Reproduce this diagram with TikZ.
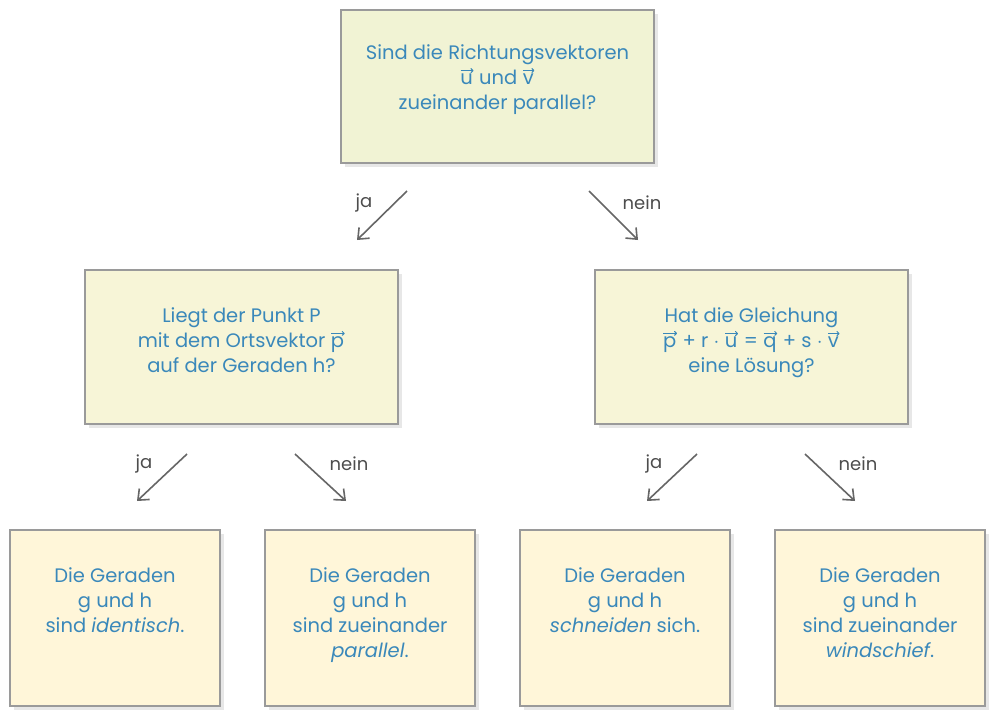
\documentclass[tikz,border=0pt]{standalone}
\usepackage{amsmath}
\usepackage{fontspec}
\setmainfont{Poppins}
\usetikzlibrary{arrows.meta}
\definecolor{txtblue}{HTML}{3A88BA}
\definecolor{fillA}{HTML}{F1F3D4}
\definecolor{fillB}{HTML}{F7F5D7}
\definecolor{fillC}{HTML}{FFF6D9}
\definecolor{edgegray}{HTML}{9A9A9A}
\definecolor{arrgray}{HTML}{666666}
\definecolor{lblgray}{HTML}{4D4D4D}
\newcommand\vv[1]{\tikz[baseline=(vvx.base)]{\node[inner sep=0pt,text=txtblue](vvx){#1};\draw[draw=txtblue,line width=1pt,-{To[length=3pt,width=5pt]}] ([yshift=3pt,xshift=0.5pt]vvx.north west) -- ([yshift=3pt,xshift=0.5pt]vvx.north east);}}
\begin{document}
\begin{tikzpicture}[x=1pt,y=-1pt,
  boxbase/.style={draw=edgegray,line width=1.2pt,rectangle,inner sep=0pt},
  shadowbox/.style={fill=black!18,draw=none,rectangle,inner sep=0pt},
  boxtext/.style={anchor=north,inner sep=0pt,align=center,text=txtblue,font=\fontsize{19.5}{25}\selectfont},
  flowarrow/.style={draw=arrgray,line width=1.6pt,-{Straight Barb[length=9pt,width=15pt,line width=1.6pt]}},
  arrlabel/.style={text=lblgray,font=\fontsize{18}{20}\selectfont,inner sep=0pt}]
\useasboundingbox (0,0) rectangle (998,716);
\fill[white] (0,0) rectangle (998,716);
% shadows
\foreach \cx/\cy/\w/\h/\n in {497.5/86.5/313/153/s0, 241.5/347/313/154/s1, 751.5/347/313/154/s2, 115/618/210/176/s3, 370/618/210/176/s4, 625/618/210/176/s5, 880/618/210/176/s6}{
  \node[shadowbox,minimum width=\w pt,minimum height=\h pt,fill opacity=0.5] (\n) at (\cx+4,\cy+4) {};
}
% boxes
\node[boxbase,fill=fillA,minimum width=313pt,minimum height=153pt] (b0) at (497.5,86.5) {};
\node[boxbase,fill=fillB,minimum width=313pt,minimum height=154pt] (b1) at (241.5,347) {};
\node[boxbase,fill=fillB,minimum width=313pt,minimum height=154pt] (b2) at (751.5,347) {};
\node[boxbase,fill=fillC,minimum width=210pt,minimum height=176pt] (b3) at (115,618) {};
\node[boxbase,fill=fillC,minimum width=210pt,minimum height=176pt] (b4) at (370,618) {};
\node[boxbase,fill=fillC,minimum width=210pt,minimum height=176pt] (b5) at (625,618) {};
\node[boxbase,fill=fillC,minimum width=210pt,minimum height=176pt] (b6) at (880,618) {};
% texts
\node[boxtext] (t0) at ([yshift=-35pt]b0.north) {Sind die Richtungsvektoren\\\vv{u} und \vv{v}\\zueinander parallel?};
\node[boxtext] (t1) at ([yshift=-38pt]b1.north) {Liegt der Punkt P\\mit dem Ortsvektor \vv{p}\\auf der Geraden h?};
\node[boxtext] (t2) at ([yshift=-38pt]b2.north) {Hat die Gleichung\\\vv{p} + r $\cdot$ \vv{u} = \vv{q} + s $\cdot$ \vv{v}\\eine Lösung?};
\node[boxtext] (t3) at ([yshift=-38pt]b3.north) {Die Geraden\\g und h\\sind \textit{identisch}.};
\node[boxtext] (t4) at ([yshift=-38pt]b4.north) {Die Geraden\\g und h\\sind zueinander\\\textit{parallel}.};
\node[boxtext] (t5) at ([yshift=-38pt]b5.north) {Die Geraden\\g und h\\\textit{schneiden} sich.};
\node[boxtext] (t6) at ([yshift=-38pt]b6.north) {Die Geraden\\g und h\\sind zueinander\\\textit{windschief}.};
% arrow endpoints
\coordinate (a1s) at (407,191); \coordinate (a1e) at (357,240);
\coordinate (a2s) at (589,191); \coordinate (a2e) at (638,240);
\coordinate (a3s) at (187,454); \coordinate (a3e) at (137,501);
\coordinate (a4s) at (295,454); \coordinate (a4e) at (346,501);
\coordinate (a5s) at (697,454); \coordinate (a5e) at (647,501);
\coordinate (a6s) at (805,454); \coordinate (a6e) at (855,501);
\draw[flowarrow] (a1s) -- (a1e);
\draw[flowarrow] (a2s) -- (a2e);
\draw[flowarrow] (a3s) -- (a3e);
\draw[flowarrow] (a4s) -- (a4e);
\draw[flowarrow] (a5s) -- (a5e);
\draw[flowarrow] (a6s) -- (a6e);
% labels
\node[arrlabel] (l1) at (364,203) {ja};
\node[arrlabel] (l2) at (642,203) {nein};
\node[arrlabel] (l3) at (144,464) {ja};
\node[arrlabel] (l4) at (349,464) {nein};
\node[arrlabel] (l5) at (654,464) {ja};
\node[arrlabel] (l6) at (858,464) {nein};
\end{tikzpicture}
\end{document}
